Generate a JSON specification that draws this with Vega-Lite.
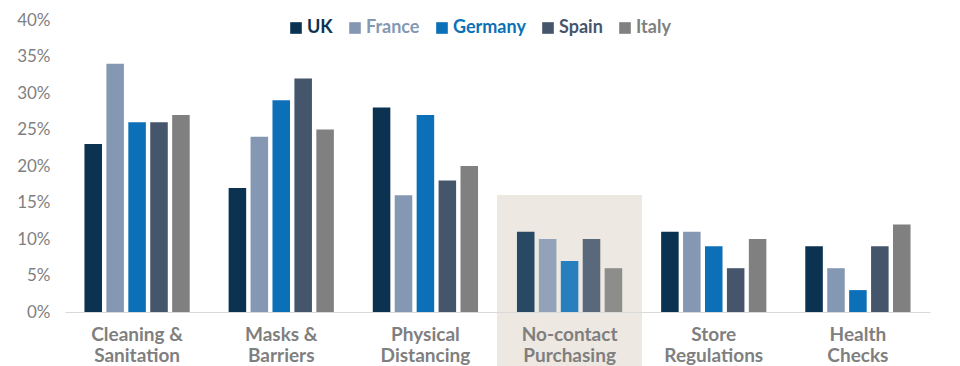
{
  "$schema": "https://vega.github.io/schema/vega-lite/v6.json",
  "width": 865,
  "height": 292,
  "padding": {"left": 65, "top": 20, "right": 30, "bottom": 54},
  "autosize": {"type": "none"},
  "background": "white",
  "config": {"view": {"stroke": null}, "font": "Lato"},
  "data": {
    "values": [
      {"category": "Cleaning & Sanitation", "country": "UK", "value": 23},
      {"category": "Cleaning & Sanitation", "country": "France", "value": 34},
      {"category": "Cleaning & Sanitation", "country": "Germany", "value": 26},
      {"category": "Cleaning & Sanitation", "country": "Spain", "value": 26},
      {"category": "Cleaning & Sanitation", "country": "Italy", "value": 27},
      {"category": "Masks & Barriers", "country": "UK", "value": 17},
      {"category": "Masks & Barriers", "country": "France", "value": 24},
      {"category": "Masks & Barriers", "country": "Germany", "value": 29},
      {"category": "Masks & Barriers", "country": "Spain", "value": 32},
      {"category": "Masks & Barriers", "country": "Italy", "value": 25},
      {"category": "Physical Distancing", "country": "UK", "value": 28},
      {"category": "Physical Distancing", "country": "France", "value": 16},
      {"category": "Physical Distancing", "country": "Germany", "value": 27},
      {"category": "Physical Distancing", "country": "Spain", "value": 18},
      {"category": "Physical Distancing", "country": "Italy", "value": 20},
      {"category": "No-contact Purchasing", "country": "UK", "value": 11},
      {"category": "No-contact Purchasing", "country": "France", "value": 10},
      {"category": "No-contact Purchasing", "country": "Germany", "value": 7},
      {"category": "No-contact Purchasing", "country": "Spain", "value": 10},
      {"category": "No-contact Purchasing", "country": "Italy", "value": 6},
      {"category": "Store Regulations", "country": "UK", "value": 11},
      {"category": "Store Regulations", "country": "France", "value": 11},
      {"category": "Store Regulations", "country": "Germany", "value": 9},
      {"category": "Store Regulations", "country": "Spain", "value": 6},
      {"category": "Store Regulations", "country": "Italy", "value": 10},
      {"category": "Health Checks", "country": "UK", "value": 9},
      {"category": "Health Checks", "country": "France", "value": 6},
      {"category": "Health Checks", "country": "Germany", "value": 3},
      {"category": "Health Checks", "country": "Spain", "value": 9},
      {"category": "Health Checks", "country": "Italy", "value": 12}
    ]
  },
  "encoding": {
    "x": {
      "field": "category",
      "type": "nominal",
      "sort": null,
      "scale": {
        "domain": ["Cleaning & Sanitation", "Masks & Barriers", "Physical Distancing", "No-contact Purchasing", "Store Regulations", "Health Checks"],
        "paddingInner": 0.27, "paddingOuter": 0.135
      },
      "axis": {
        "title": null,
        "zindex": 1,
        "labelAngle": 0,
        "ticks": false,
        "domainColor": "#d9d9d9",
        "domainWidth": 1,
        "labelFont": "Lato",
        "labelFontSize": 19,
        "labelFontWeight": "bold",
        "labelColor": "#7f7f7f",
        "labelPadding": 13,
        "labelBaseline": "top",
        "labelLineHeight": 21,
        "labelOverlap": false,
        "labelExpr": "[substring(datum.label, 0, lastindexof(datum.label, ' ')), substring(datum.label, lastindexof(datum.label, ' ') + 1)]"
      }
    }
  },
  "layer": [
    {
      "mark": {"type": "bar", "color": "#ede8e1", "width": {"band": 1.37}, "clip": false},
      "encoding": {
        "x": {"datum": "No-contact Purchasing"},
        "y": {
          "datum": 16,
          "scale": {"domain": [0, 40], "nice": false},
          "axis": {
            "title": null,
            "values": [0, 5, 10, 15, 20, 25, 30, 35, 40],
            "labelExpr": "datum.value + '%'",
            "labelOverlap": false,
            "grid": false,
            "domain": false,
            "ticks": false,
            "labelPadding": 15,
            "labelFont": "Lato",
            "labelFontSize": 17,
            "labelColor": "#7f7f7f"
          }
        },
        "y2": {"datum": -8}
      }
    },
    {
      "mark": {"type": "bar"},
      "encoding": {
        "xOffset": {"field": "country", "type": "nominal", "sort": ["UK", "France", "Germany", "Spain", "Italy"], "scale": {"paddingInner": 0.2}},
        "y": {
          "field": "value",
          "type": "quantitative",
          "scale": {"domain": [0, 40], "nice": false},
          "axis": {
            "title": null,
            "values": [0, 5, 10, 15, 20, 25, 30, 35, 40],
            "labelExpr": "datum.value + '%'",
            "labelOverlap": false,
            "grid": false,
            "domain": false,
            "ticks": false,
            "labelPadding": 15,
            "labelFont": "Lato",
            "labelFontSize": 17,
            "labelColor": "#7f7f7f"
          }
        },
        "opacity": {
          "condition": {"test": "datum.category === 'No-contact Purchasing'", "value": 0.88},
          "value": 1
        },
        "color": {
          "field": "country",
          "type": "nominal",
          "sort": ["UK", "France", "Germany", "Spain", "Italy"],
          "scale": {"domain": ["UK", "France", "Germany", "Spain", "Italy"], "range": ["#0c3251", "#8598b3", "#0b70b8", "#45556c", "#808080"]},
          "legend": {
            "title": null,
            "orient": "none",
            "direction": "horizontal",
            "legendX": 222,
            "legendY": -1,
            "symbolType": "square",
            "symbolSize": 135,
            "symbolStrokeWidth": 0,
            "labelFont": "Lato",
            "labelFontSize": 18,
            "labelFontWeight": "bold",
            "labelOffset": 2,
            "columnPadding": 13,
            "labelColor": {"expr": "scale('color', datum.value)"},
            "symbolOpacity": 1
          }
        }
      }
    }
  ]
}
